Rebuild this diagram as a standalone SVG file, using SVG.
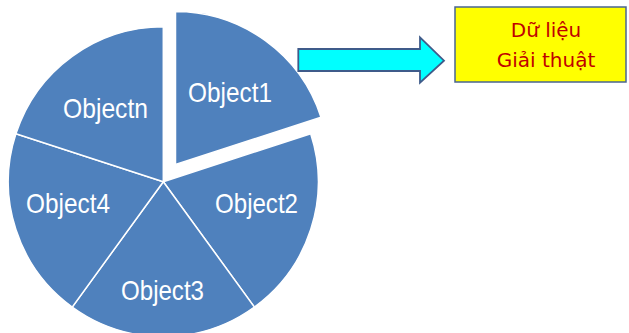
<svg xmlns="http://www.w3.org/2000/svg" width="629" height="333" viewBox="0 0 629 333">
  <style>
    .slice { fill: #4F81BD; stroke: #FFFFFF; stroke-width: 1.5; stroke-linejoin: miter; }
    .lbl { font-family: "Liberation Sans", Arial, sans-serif; font-size: 28px; fill: #FFFFFF; text-anchor: middle; }
    .box { fill: #FFFF00; stroke: #4A6591; stroke-width: 1.5; }
    .boxtxt { font-family: "DejaVu Sans", "Liberation Sans", sans-serif; font-size: 20px; fill: #C00000; text-anchor: middle; }
    .arrow { fill: #00FFFF; stroke: #3F5B8A; stroke-width: 1.8; stroke-linejoin: miter; }
  </style>
  <rect width="629" height="333" fill="#FFFFFF"/>
  <g id="slice-object1">
    <path class="slice" d="M175.5,164.5 L175.5,11.5 A153,153 0 0 1 321,117.2 Z"/>
    <text class="lbl" x="230" y="102" textLength="84" lengthAdjust="spacingAndGlyphs">Object1</text>
  </g>
  <g id="slice-object2">
    <path class="slice" d="M163.3,181.7 L310.7,133.8 A155,155 0 0 1 254.4,307.1 Z"/>
    <text class="lbl" x="256.5" y="213" textLength="83" lengthAdjust="spacingAndGlyphs">Object2</text>
  </g>
  <g id="slice-object3">
    <path class="slice" d="M163.3,181.7 L254.4,307.1 A155,155 0 0 1 72.2,307.1 Z"/>
    <text class="lbl" x="162.5" y="300" textLength="83" lengthAdjust="spacingAndGlyphs">Object3</text>
  </g>
  <g id="slice-object4">
    <path class="slice" d="M163.3,181.7 L72.2,307.1 A155,155 0 0 1 15.9,133.8 Z"/>
    <text class="lbl" x="68" y="213" textLength="84" lengthAdjust="spacingAndGlyphs">Object4</text>
  </g>
  <g id="slice-objectn">
    <path class="slice" d="M163.3,181.7 L15.9,133.8 A155,155 0 0 1 163.3,26.7 Z"/>
    <text class="lbl" x="105.5" y="118" textLength="85" lengthAdjust="spacingAndGlyphs">Objectn</text>
  </g>
  <g id="connectors">
    <path class="arrow" d="M298.3,49 L420,49 L420,37.3 L444,60.7 L420,82.7 L420,71 L298.3,71 Z"/>
  </g>
  <g id="node-box">
    <rect class="box" x="455" y="7" width="171" height="75"/>
    <text class="boxtxt" x="546" y="37">Dữ liệu</text>
    <text class="boxtxt" x="546" y="67">Giải thuật</text>
  </g>
</svg>
